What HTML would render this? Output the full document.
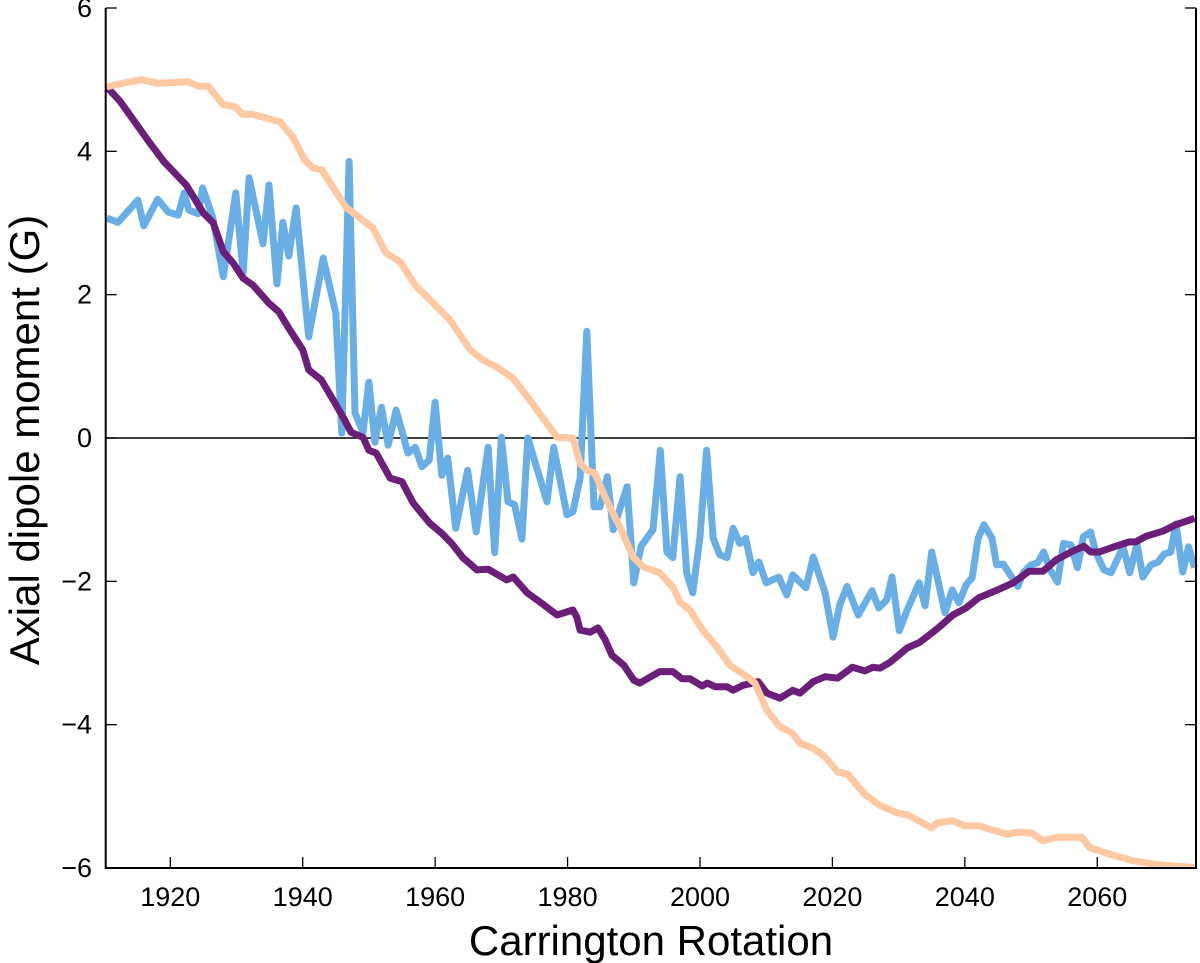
<!DOCTYPE html>
<html><head><meta charset="utf-8"><style>
html,body{margin:0;padding:0;background:#fff;}
svg{display:block;font-family:"Liberation Sans",Arial,sans-serif;}
</style></head><body>
<svg id="chart" width="1200" height="963" viewBox="0 0 1200 963" xmlns="http://www.w3.org/2000/svg">
<g id="grid"></g>
<g id="series"></g>
<g id="axes"></g>
<text x="651" y="955" font-size="42" text-anchor="middle" fill="#000">Carrington Rotation</text>
<text transform="translate(39,440) rotate(-90)" font-size="42" text-anchor="middle" fill="#000">Axial dipole moment (G)</text>
</svg>
<script>
const xTicks=[1920,1940,1960,1980,2000,2020,2040,2060];
const yTicks=[-6,-4,-2,0,2,4,6];
const yTickLabels=["\u22126","\u22124","\u22122","0","2","4","6"];
const blueX=[1910.4,1912.1,1915.1,1916.0,1918.1,1919.7,1921.2,1922.1,1922.8,1924.2,1924.9,1926.4,1928.0,1929.9,1931.0,1931.9,1934.0,1934.9,1936.1,1937.0,1937.9,1939.0,1940.9,1943.1,1945.0,1945.9,1947.0,1947.9,1949.1,1950.0,1950.9,1951.9,1952.9,1954.1,1955.9,1957.0,1958.0,1959.1,1960.0,1961.0,1961.9,1963.1,1964.9,1966.2,1968.0,1969.0,1970.0,1971.0,1972.0,1973.1,1974.0,1976.9,1977.9,1979.9,1980.8,1981.9,1982.9,1984.0,1984.9,1986.0,1986.9,1989.0,1990.0,1991.1,1992.9,1994.0,1995.0,1995.9,1997.0,1998.0,1998.9,2000.0,2001.0,2002.0,2003.0,2004.1,2005.0,2006.0,2006.9,2008.0,2008.9,2010.0,2011.9,2013.1,2014.0,2016.0,2017.1,2018.9,2020.1,2021.1,2022.2,2023.9,2026.0,2027.0,2028.2,2029.0,2030.1,2031.3,2033.1,2034.0,2035.0,2037.0,2038.1,2039.1,2040.2,2041.1,2042.0,2042.9,2044.1,2044.8,2045.8,2048.0,2048.9,2050.0,2051.0,2051.9,2052.9,2054.0,2054.9,2056.0,2057.0,2057.9,2059.0,2059.8,2061.0,2062.1,2063.9,2064.9,2066.0,2066.9,2068.1,2069.2,2070.1,2071.1,2071.9,2072.9,2073.8,2074.7];
const blueY=[3.07,3.01,3.32,2.96,3.33,3.15,3.11,3.42,3.18,3.13,3.49,3.08,2.25,3.42,2.30,3.63,2.71,3.53,2.15,3.01,2.54,3.21,1.41,2.51,1.74,0.07,3.86,0.35,0.08,0.78,-0.06,0.43,-0.10,0.39,-0.21,-0.13,-0.40,-0.31,0.50,-0.52,-0.28,-1.26,-0.45,-1.31,-0.13,-1.60,0.01,-0.89,-0.93,-1.41,0.00,-0.89,-0.13,-1.07,-1.03,-0.56,1.49,-0.96,-0.96,-0.54,-1.28,-0.68,-2.02,-1.51,-1.28,-0.17,-1.59,-1.67,-0.54,-1.88,-2.16,-1.38,-0.17,-1.40,-1.63,-1.67,-1.26,-1.47,-1.40,-1.88,-1.73,-2.02,-1.94,-2.19,-1.91,-2.09,-1.66,-2.16,-2.78,-2.33,-2.07,-2.47,-2.13,-2.37,-2.26,-1.94,-2.69,-2.40,-2.02,-2.34,-1.59,-2.44,-2.12,-2.30,-2.05,-1.95,-1.40,-1.21,-1.40,-1.77,-1.76,-2.07,-1.87,-1.77,-1.74,-1.59,-1.84,-2.01,-1.47,-1.49,-1.81,-1.38,-1.31,-1.60,-1.84,-1.88,-1.52,-1.88,-1.48,-1.94,-1.77,-1.73,-1.62,-1.59,-1.20,-1.87,-1.52,-1.81];
const purpleX=[1910.4,1912.4,1916.8,1919.1,1922.4,1925.0,1926.5,1928.0,1929.5,1931.0,1932.5,1934.9,1936.4,1937.9,1940.0,1940.9,1942.8,1944.6,1946.1,1947.3,1949.1,1950.0,1951.1,1953.2,1955.0,1956.7,1959.2,1961.0,1962.5,1964.2,1966.3,1968.0,1970.8,1971.8,1973.9,1976.3,1978.4,1980.8,1981.4,1981.9,1983.4,1984.6,1985.7,1986.7,1988.5,1990.0,1990.9,1993.9,1995.9,1997.3,1998.5,2000.3,2001.1,2002.3,2004.1,2005.0,2006.5,2008.8,2010.1,2012.1,2014.0,2015.1,2017.1,2018.9,2020.8,2023.0,2024.9,2026.1,2027.2,2028.7,2031.3,2033.2,2036.0,2038.2,2040.2,2042.1,2045.2,2047.3,2049.7,2051.8,2053.8,2056.3,2058.0,2059.0,2060.3,2062.8,2064.8,2065.8,2067.4,2069.9,2071.9,2074.7];
const purpleY=[4.90,4.70,4.13,3.85,3.53,3.14,3.00,2.60,2.44,2.23,2.13,1.88,1.76,1.53,1.23,0.95,0.81,0.53,0.29,0.08,0.01,-0.17,-0.21,-0.56,-0.61,-0.91,-1.19,-1.33,-1.47,-1.67,-1.84,-1.83,-1.98,-1.94,-2.16,-2.32,-2.47,-2.40,-2.50,-2.68,-2.71,-2.65,-2.82,-3.03,-3.17,-3.38,-3.42,-3.26,-3.26,-3.36,-3.36,-3.46,-3.42,-3.47,-3.47,-3.52,-3.45,-3.40,-3.56,-3.63,-3.52,-3.56,-3.40,-3.33,-3.35,-3.20,-3.25,-3.20,-3.21,-3.13,-2.93,-2.85,-2.65,-2.47,-2.37,-2.23,-2.11,-2.02,-1.86,-1.86,-1.70,-1.58,-1.51,-1.59,-1.59,-1.51,-1.45,-1.45,-1.37,-1.30,-1.21,-1.12];
const orangeX=[1910.4,1910.9,1912.9,1915.7,1918.0,1922.7,1924.2,1925.7,1928.0,1929.8,1931.0,1932.3,1936.6,1938.5,1940.3,1941.5,1942.9,1946.5,1948.5,1950.6,1952.6,1954.7,1957.0,1959.2,1962.2,1965.3,1967.2,1969.3,1971.7,1974.3,1977.3,1978.4,1980.8,1981.9,1982.9,1984.1,1985.9,1987.9,1989.9,1991.4,1993.9,1995.9,1997.0,1998.5,2000.4,2002.6,2004.5,2007.1,2008.3,2010.1,2012.1,2014.0,2015.1,2017.1,2018.9,2020.8,2022.3,2024.9,2027.2,2029.8,2031.4,2035.0,2035.8,2038.1,2040.0,2042.0,2046.4,2047.9,2050.1,2051.8,2053.9,2057.7,2058.9,2062.4,2065.4,2067.5,2069.9,2074.4,2075.0];
const orangeY=[4.90,4.91,4.95,5.00,4.95,4.97,4.91,4.91,4.65,4.62,4.51,4.52,4.41,4.20,3.88,3.77,3.74,3.22,3.08,2.93,2.58,2.46,2.13,1.93,1.65,1.23,1.09,0.99,0.84,0.53,0.15,0.01,0.00,-0.35,-0.45,-0.49,-0.87,-1.24,-1.66,-1.80,-1.88,-2.08,-2.29,-2.40,-2.68,-2.92,-3.17,-3.33,-3.42,-3.80,-4.03,-4.12,-4.26,-4.33,-4.45,-4.66,-4.69,-4.97,-5.13,-5.23,-5.26,-5.44,-5.37,-5.34,-5.41,-5.41,-5.53,-5.50,-5.51,-5.62,-5.57,-5.57,-5.72,-5.82,-5.90,-5.93,-5.96,-5.99,-6.0];

const L=105.7,R=1196,T=8,B=868;
function xs(v){return 170.3+(v-1920)*6.621;}
function ys(v){return 438-v*71.667;}
const NS="http://www.w3.org/2000/svg";
function mk(tag,parent,attrs){const e=document.createElementNS(NS,tag);for(const k in attrs)e.setAttribute(k,attrs[k]);parent.appendChild(e);return e;}
const series=document.getElementById('series');
const axes=document.getElementById('axes');
const grid=document.getElementById('grid');

const clip=mk('clipPath',document.getElementById('chart'),{id:'plotclip'});
mk('rect',clip,{x:L,y:T-4,width:R-L+4,height:B-T+4});

const zl=mk('line',grid,{x1:L,x2:R,y1:ys(0),y2:ys(0),stroke:'#000','stroke-width':1.6});



function drawLine(xa,ya,color,name){
  const d=xa.map((x,i)=>(i?'L':'M')+xs(x).toFixed(1)+' '+ys(ya[i]).toFixed(1)).join(' ');
  const p=mk('path',series,{d:d,fill:'none',stroke:color,'stroke-width':7,'stroke-linejoin':'round','stroke-linecap':'butt','clip-path':'url(#plotclip)'});
  
  
}
drawLine(blueX,blueY,'#6aaee6','blue-series-line');
drawLine(purpleX,purpleY,'#6b1f78','purple-series-line');
drawLine(orangeX,orangeY,'#fdc9a2','orange-series-line');

const fr=mk('path',axes,{d:`M${L} ${T} L${L} ${B} L${R} ${B} L${R} ${T}`,fill:'none',stroke:'#000','stroke-width':2});



xTicks.forEach(t=>{
  const x=xs(t);
  const tk=mk('line',axes,{x1:x,x2:x,y1:B,y2:B-11,stroke:'#000','stroke-width':1.3});
  
  
  const tx=mk('text',axes,{x:x,y:906,'font-size':27,'text-anchor':'middle',fill:'#000'});
  tx.textContent=t;
  
  
});
yTicks.forEach((t,i)=>{
  const y=ys(t);
  const a=mk('line',axes,{x1:L,x2:L+11,y1:y,y2:y,stroke:'#000','stroke-width':1.3});
  
  
  const b=mk('line',axes,{x1:R-11,x2:R,y1:y,y2:y,stroke:'#000','stroke-width':1.3});
  
  
  const tx=mk('text',axes,{x:92,y:y+9,'font-size':27,'text-anchor':'end',fill:'#000'});
  tx.textContent=yTickLabels[i];
  
  
});
</script>
</body></html>
